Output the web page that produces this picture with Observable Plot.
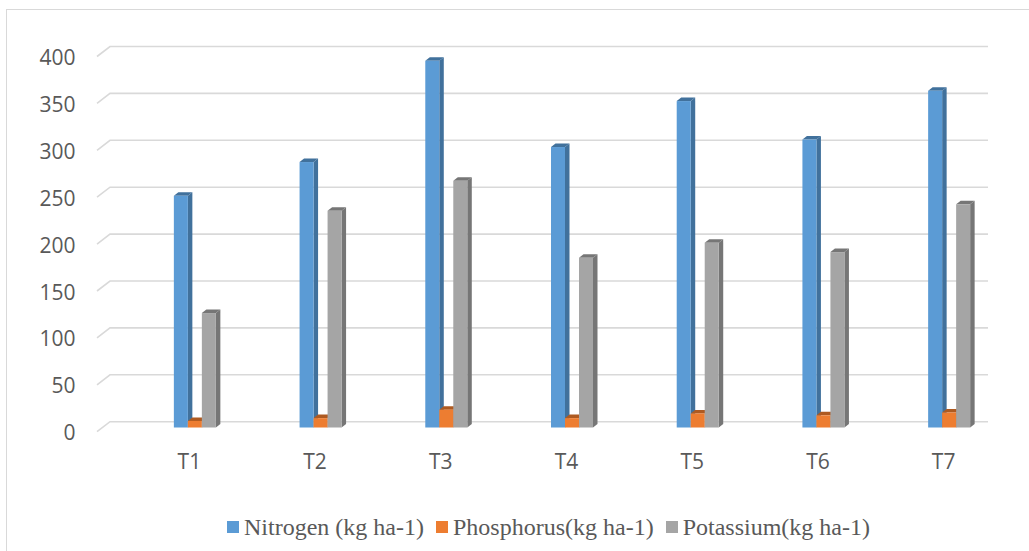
<!DOCTYPE html>
<html>
<head>
<meta charset="utf-8">
<script src="https://cdn.jsdelivr.net/npm/d3@7"></script>
<script src="https://cdn.jsdelivr.net/npm/@observablehq/plot@0.6"></script>
<style>
  html, body { margin: 0; padding: 0; background: #fff; }
  #frame { position: absolute; left: 6px; top: 9px; width: 1100px; height: 700px;
           border-left: 1.5px solid #d9d9d9; border-top: 1.5px solid #d9d9d9; }
  #chart { position: absolute; left: 0; top: 0; width: 1029px; }
  #legend { position: absolute; left: 0; top: 513px; width: 1029px; display: flex; justify-content: center;
            gap: 12px; font-family: "Liberation Serif", "Times New Roman", Times, "DejaVu Serif", serif; font-size: 24px; color: #595959;
            line-height: 28px; padding-left: 68px; box-sizing: border-box; }
  .item { display: flex; align-items: center; white-space: nowrap; }
  .sw { width: 12px; height: 12px; margin-right: 5px; display: inline-block; }
</style>
</head>
<body>
<div id="frame"></div>
<div id="chart"></div>
<div id="legend"></div>
<script>
const categories = ["T1", "T2", "T3", "T4", "T5", "T6", "T7"];
const nitrogen   = [247, 283, 391, 299, 348, 307, 359];
const phosphorus = [7, 10, 19, 10, 15, 13, 16];
const potassium  = [122, 231, 263, 181, 197, 187, 238];
const seriesNames = ["Nitrogen (kg ha-1)", "Phosphorus(kg ha-1)", "Potassium(kg ha-1)"];
const yTicks = [0, 50, 100, 150, 200, 250, 300, 350, 400];

const front = ["#5b9bd5", "#ed7d31", "#a5a5a5"];
const side  = ["#41719c", "#ae5a21", "#767676"];

const seriesValues = [nitrogen, phosphorus, potassium];
const rows = seriesValues.map(vals => categories.map((c, i) => ({cat: c, value: vals[i]})));

const DX = 4.5, DY = -3.5;
function bar3d(si) {
  return (index, scales, values, dims, context, next) => {
    const g = next(index, scales, values, dims, context);
    g.querySelectorAll("rect").forEach(rect => {
      const x = +rect.getAttribute("x"), y = +rect.getAttribute("y");
      const w = +rect.getAttribute("width"), h = +rect.getAttribute("height");
      const mk = (pts) => {
        const p = document.createElementNS("http://www.w3.org/2000/svg", "polygon");
        p.setAttribute("points", pts.map(d => d.join(",")).join(" "));
        p.setAttribute("fill", side[si]);
        return p;
      };
      const top = mk([[x, y], [x + DX, y + DY], [x + w + DX, y + DY], [x + w, y]]);
      const sd = mk([[x + w, y], [x + w + DX, y + DY], [x + w + DX, y + h + DY], [x + w, y + h]]);
      rect.parentNode.insertBefore(top, rect);
      rect.parentNode.insertBefore(sd, rect);
    });
    return g;
  };
}

const gridRender = (index, scales, values, dims) => {
  const g = d3.create("svg:g");
  for (const i of index) {
    const y = values.y[i];
    g.append("path")
      .attr("d", `M${dims.marginLeft - 29},${y + 4.2}L${dims.marginLeft - 16},${y - 5.8}H${dims.width - dims.marginRight - 18}`)
      .attr("fill", "none").attr("stroke", "#d9d9d9").attr("stroke-width", 1.6);
  }
  return g.node();
};

const inset = (125.71 - 14) / 2;
const offsets = [-8, 6, 20];

const chart = Plot.plot({
  width: 1029,
  height: 500,
  marginLeft: 126,
  marginRight: 23,
  marginTop: 52.3,
  marginBottom: 72.5,
  style: {fontFamily: "'Open Sans', sans-serif", fontSize: "21px", background: "transparent"},
  x: {domain: categories, padding: 0, round: false, axis: null, label: null},
  y: {domain: [0, 400], axis: null, label: null},
  marks: [
    Plot.ruleY(yTicks, {y: d => d, render: gridRender}),
    ...rows.map((r, si) => Plot.barY(r, {
      x: "cat", y: "value", fill: front[si], dx: offsets[si],
      insetLeft: inset, insetRight: inset, render: bar3d(si)
    })),
    Plot.axisY(yTicks, {tickSize: 0, tickPadding: 51, dy: 5.5, fill: "#595959", fontSize: 21, label: null}),
    Plot.axisX(categories, {tickSize: 0, tickPadding: 26, fill: "#595959", fontSize: 21, label: null})
  ]
});
document.getElementById("chart").appendChild(chart);

const legend = document.getElementById("legend");
seriesNames.forEach((name, i) => {
  const item = document.createElement("span");
  item.className = "item";
  const sw = document.createElement("span");
  sw.className = "sw";
  sw.style.background = front[i];
  item.appendChild(sw);
  item.appendChild(document.createTextNode(name));
  legend.appendChild(item);
});
</script>
</body>
</html>
